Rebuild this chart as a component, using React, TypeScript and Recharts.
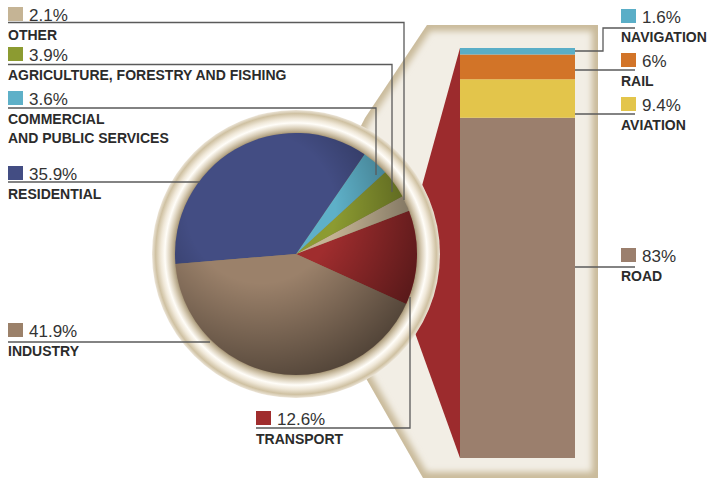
import { PieChart, Pie, Cell, BarChart, Bar, XAxis, YAxis } from "recharts";

const W = 711;
const H = 481;
const CX = 296;
const CY = 254;
const R = 121;

// energy use by sector (pie, counter-clockwise from transport)
const sectors = ["TRANSPORT", "OTHER", "AGRICULTURE, FORESTRY AND FISHING", "COMMERCIAL|AND PUBLIC SERVICES", "RESIDENTIAL", "INDUSTRY"];
const sectorShares = [12.6, 2.1, 3.9, 3.6, 35.9, 41.9];
const sectorColors = ["#a02d2e", "#c5b495", "#8c9b31", "#5eb0c8", "#434d83", "#9b816a"];

// transport split (stacked bar, bottom to top)
const modes = ["ROAD", "AVIATION", "RAIL", "NAVIGATION"];
const modeShares = [83, 9.4, 6, 1.6];
const modeColors = ["#9b7f6d", "#e3c54b", "#d27428", "#5aaec7"];

const pieData = sectors.map((name, i) => ({ name, value: sectorShares[i] }));
const barRow: Record<string, number | string> = { name: "transport" };
modes.forEach((m, i) => (barRow[m] = modeShares[i]));

// label placement
const sectorLabelPos = [
  { x: 256, top: 411, line: "256,428 410,428 410,297" },
  { x: 8, top: 7, line: "8,22.5 404,22.5 404,200" },
  { x: 8, top: 47, line: "8,64.5 392,64.5 392,192" },
  { x: 8, top: 91, line: "8,108 376,108 376,175" },
  { x: 8, top: 166, line: "8,182 200,182" },
  { x: 8, top: 323, line: "8,342 210,342" },
];
const modeLabelPos = [
  { top: 248, line: "575,267 635,267" },
  { top: 97, line: "575,114 635,114" },
  { top: 53, line: "575,70 635,70" },
  { top: 9, line: "575,51 603,51 603,28 635,28" },
];

const font = "'Liberation Sans', Arial, sans-serif";
const frame = "427,25 598,25 598,478 423,478 367,380 296,254 365,118";

function Label({ x, top, color, pct, name }: { x: number; top: number; color: string; pct: string; name: string }) {
  const lines = name.split("|");
  return (
    <g>
      <rect x={x} y={top} width={15} height={14} fill={color} />
      <text x={x + 21} y={top + 14} fontSize={17} fill="#333">{pct}</text>
      {lines.map((l, i) => (
        <text key={i} x={x} y={top + 33 + i * 19} fontSize={14} fontWeight="bold" fill="#2b2b2b">{l}</text>
      ))}
    </g>
  );
}

export default function App() {
  return (
    <div style={{ position: "absolute", left: 0, top: 0, width: W, height: H, background: "#fff", fontFamily: font }}>
      <svg width={W} height={H} style={{ position: "absolute", left: 0, top: 0 }}>
        <defs>
          <radialGradient id="ring" gradientUnits="userSpaceOnUse" cx={CX} cy={CY} r={144}>
            <stop offset="0.83" stopColor="#8f7f63" />
            <stop offset="0.85" stopColor="#b9aa8c" />
            <stop offset="0.875" stopColor="#dbd0ba" />
            <stop offset="0.91" stopColor="#fffdf8" />
            <stop offset="0.94" stopColor="#efe7d7" />
            <stop offset="0.975" stopColor="#cfc1a2" />
            <stop offset="1" stopColor="#ece5d8" />
          </radialGradient>
          <clipPath id="frameClip">
            <polygon points={frame} />
          </clipPath>
          <filter id="soft" x="-10%" y="-10%" width="120%" height="120%">
            <feGaussianBlur stdDeviation="3" />
          </filter>
        </defs>
        <polygon points={frame} fill="#f2eee5" />
        <g clipPath="url(#frameClip)">
          <polygon points={frame} fill="none" stroke="#c9ba9a" strokeWidth={12} filter="url(#soft)" />
        </g>
        <polygon points="460,48 460,458 396,280" fill="#9c2b2d" />
        <circle cx={CX} cy={CY} r={144} fill="url(#ring)" />
      </svg>

      <div style={{ position: "absolute", left: 0, top: 0 }}>
        <PieChart width={W} height={H} margin={{ top: 0, right: 0, bottom: 0, left: 0 }}>
          <Pie
            data={pieData}
            dataKey="value"
            nameKey="name"
            cx={CX}
            cy={CY}
            outerRadius={R}
            startAngle={-24.4}
            endAngle={335.6}
            stroke="none"
            isAnimationActive={false}
          >
            {pieData.map((d, i) => (
              <Cell key={d.name} fill={sectorColors[i]} />
            ))}
          </Pie>
        </PieChart>
      </div>

      <div style={{ position: "absolute", left: 460, top: 48 }}>
        <BarChart width={115} height={410} data={[barRow]} margin={{ top: 0, right: 0, bottom: 0, left: 0 }} barCategoryGap={0}>
          <XAxis dataKey="name" hide />
          <YAxis hide domain={[0, 100]} />
          {modes.map((m, i) => (
            <Bar key={m} dataKey={m} stackId="t" fill={modeColors[i]} isAnimationActive={false} />
          ))}
        </BarChart>
      </div>

      <svg width={W} height={H} style={{ position: "absolute", left: 0, top: 0, pointerEvents: "none" }} fontFamily={font}>
        <defs>
          <radialGradient id="shade" gradientUnits="userSpaceOnUse" cx={CX - 35} cy={CY - 45} r={185}>
            <stop offset="0.4" stopColor="#000" stopOpacity={0} />
            <stop offset="1" stopColor="#000" stopOpacity={0.5} />
          </radialGradient>
        </defs>
        <circle cx={CX} cy={CY} r={R} fill="url(#shade)" />
        {sectors.map((s, i) => (
          <g key={s}>
            <polyline points={sectorLabelPos[i].line} fill="none" stroke="#5a5a5a" strokeWidth={1.3} />
            <Label x={sectorLabelPos[i].x} top={sectorLabelPos[i].top} color={sectorColors[i]} pct={`${sectorShares[i]}%`} name={s} />
          </g>
        ))}
        {modes.map((m, i) => (
          <g key={m}>
            <polyline points={modeLabelPos[i].line} fill="none" stroke="#5a5a5a" strokeWidth={1.3} />
            <Label x={621} top={modeLabelPos[i].top} color={modeColors[i]} pct={`${modeShares[i]}%`} name={m} />
          </g>
        ))}
      </svg>
    </div>
  );
}
